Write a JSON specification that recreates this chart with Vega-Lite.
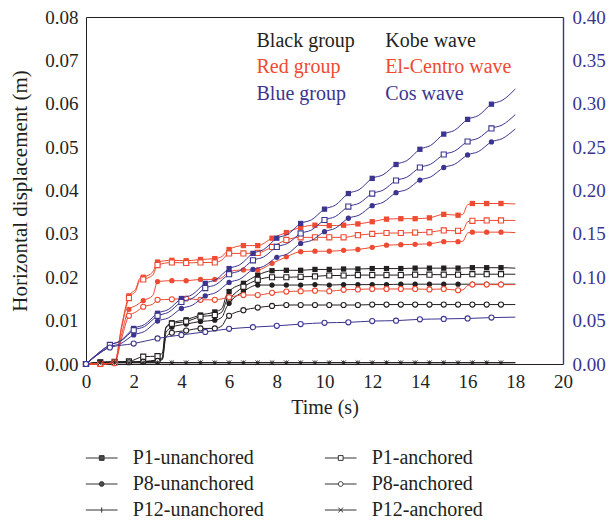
{
"$schema": "https://vega.github.io/schema/vega-lite/v6.json",
"width": 477, "height": 347,
"autosize": {"type": "none"},
"padding": {"left": 86, "top": 17, "right": 46, "bottom": 158},
"config": {"font": "Liberation Serif", "view": {"stroke": null}},
"data": {"values": [
{"g":"Black","s":"P1-unanchored","t":0,"v":0,"m":1},{"g":"Black","s":"P1-unanchored","t":0.6,"v":0.0004,"m":1},{"g":"Black","s":"P1-unanchored","t":1.2,"v":0.0005,"m":1},{"g":"Black","s":"P1-unanchored","t":1.8,"v":0.0005,"m":1},{"g":"Black","s":"P1-unanchored","t":2.4,"v":0.0006,"m":1},{"g":"Black","s":"P1-unanchored","t":3,"v":0.001,"m":1},{"g":"Black","s":"P1-unanchored","t":3.2,"v":0.0015,"m":0},{"g":"Black","s":"P1-unanchored","t":3.35,"v":0.0085,"m":0},{"g":"Black","s":"P1-unanchored","t":3.6,"v":0.0095,"m":1},{"g":"Black","s":"P1-unanchored","t":4.2,"v":0.0102,"m":1},{"g":"Black","s":"P1-unanchored","t":4.8,"v":0.0113,"m":1},{"g":"Black","s":"P1-unanchored","t":5.4,"v":0.012,"m":1},{"g":"Black","s":"P1-unanchored","t":5.7,"v":0.0128,"m":0},{"g":"Black","s":"P1-unanchored","t":5.9,"v":0.016,"m":0},{"g":"Black","s":"P1-unanchored","t":6,"v":0.0167,"m":1},{"g":"Black","s":"P1-unanchored","t":6.6,"v":0.0186,"m":1},{"g":"Black","s":"P1-unanchored","t":7.2,"v":0.0205,"m":1},{"g":"Black","s":"P1-unanchored","t":7.8,"v":0.0215,"m":1},{"g":"Black","s":"P1-unanchored","t":8.4,"v":0.0216,"m":1},{"g":"Black","s":"P1-unanchored","t":9,"v":0.0216,"m":1},{"g":"Black","s":"P1-unanchored","t":9.6,"v":0.0218,"m":1},{"g":"Black","s":"P1-unanchored","t":10.2,"v":0.0218,"m":1},{"g":"Black","s":"P1-unanchored","t":10.8,"v":0.0219,"m":1},{"g":"Black","s":"P1-unanchored","t":11.4,"v":0.0219,"m":1},{"g":"Black","s":"P1-unanchored","t":12,"v":0.022,"m":1},{"g":"Black","s":"P1-unanchored","t":12.6,"v":0.022,"m":1},{"g":"Black","s":"P1-unanchored","t":13.2,"v":0.022,"m":1},{"g":"Black","s":"P1-unanchored","t":13.8,"v":0.0221,"m":1},{"g":"Black","s":"P1-unanchored","t":14.4,"v":0.0221,"m":1},{"g":"Black","s":"P1-unanchored","t":15,"v":0.0221,"m":1},{"g":"Black","s":"P1-unanchored","t":15.6,"v":0.0221,"m":1},{"g":"Black","s":"P1-unanchored","t":16.2,"v":0.0222,"m":1},{"g":"Black","s":"P1-unanchored","t":16.8,"v":0.0222,"m":1},{"g":"Black","s":"P1-unanchored","t":17.4,"v":0.0222,"m":1},{"g":"Black","s":"P1-unanchored","t":18,"v":0.0221,"m":0},
{"g":"Black","s":"P1-anchored","t":0,"v":0,"m":1},{"g":"Black","s":"P1-anchored","t":0.6,"v":0.0004,"m":1},{"g":"Black","s":"P1-anchored","t":1.2,"v":0.0005,"m":1},{"g":"Black","s":"P1-anchored","t":1.8,"v":0.0006,"m":1},{"g":"Black","s":"P1-anchored","t":2.4,"v":0.0017,"m":1},{"g":"Black","s":"P1-anchored","t":3,"v":0.0018,"m":1},{"g":"Black","s":"P1-anchored","t":3.2,"v":0.0025,"m":0},{"g":"Black","s":"P1-anchored","t":3.35,"v":0.0083,"m":0},{"g":"Black","s":"P1-anchored","t":3.6,"v":0.0093,"m":1},{"g":"Black","s":"P1-anchored","t":4.2,"v":0.0098,"m":1},{"g":"Black","s":"P1-anchored","t":4.8,"v":0.0109,"m":1},{"g":"Black","s":"P1-anchored","t":5.4,"v":0.0113,"m":1},{"g":"Black","s":"P1-anchored","t":5.7,"v":0.012,"m":0},{"g":"Black","s":"P1-anchored","t":5.9,"v":0.0146,"m":0},{"g":"Black","s":"P1-anchored","t":6,"v":0.0151,"m":1},{"g":"Black","s":"P1-anchored","t":6.6,"v":0.0178,"m":1},{"g":"Black","s":"P1-anchored","t":7.2,"v":0.0194,"m":1},{"g":"Black","s":"P1-anchored","t":7.8,"v":0.02,"m":1},{"g":"Black","s":"P1-anchored","t":8.4,"v":0.02,"m":1},{"g":"Black","s":"P1-anchored","t":9,"v":0.0201,"m":1},{"g":"Black","s":"P1-anchored","t":9.6,"v":0.0202,"m":1},{"g":"Black","s":"P1-anchored","t":10.2,"v":0.0204,"m":1},{"g":"Black","s":"P1-anchored","t":10.8,"v":0.0204,"m":1},{"g":"Black","s":"P1-anchored","t":11.4,"v":0.0205,"m":1},{"g":"Black","s":"P1-anchored","t":12,"v":0.0205,"m":1},{"g":"Black","s":"P1-anchored","t":12.6,"v":0.0205,"m":1},{"g":"Black","s":"P1-anchored","t":13.2,"v":0.0205,"m":1},{"g":"Black","s":"P1-anchored","t":13.8,"v":0.0206,"m":1},{"g":"Black","s":"P1-anchored","t":14.4,"v":0.0206,"m":1},{"g":"Black","s":"P1-anchored","t":15,"v":0.0206,"m":1},{"g":"Black","s":"P1-anchored","t":15.6,"v":0.0206,"m":1},{"g":"Black","s":"P1-anchored","t":16.2,"v":0.0207,"m":1},{"g":"Black","s":"P1-anchored","t":16.8,"v":0.0207,"m":1},{"g":"Black","s":"P1-anchored","t":17.4,"v":0.0207,"m":1},{"g":"Black","s":"P1-anchored","t":18,"v":0.0207,"m":0},
{"g":"Black","s":"P8-unanchored","t":0,"v":0,"m":1},{"g":"Black","s":"P8-unanchored","t":0.6,"v":0.0003,"m":1},{"g":"Black","s":"P8-unanchored","t":1.2,"v":0.0004,"m":1},{"g":"Black","s":"P8-unanchored","t":1.8,"v":0.0004,"m":1},{"g":"Black","s":"P8-unanchored","t":2.4,"v":0.0005,"m":1},{"g":"Black","s":"P8-unanchored","t":3,"v":0.0008,"m":1},{"g":"Black","s":"P8-unanchored","t":3.2,"v":0.0012,"m":0},{"g":"Black","s":"P8-unanchored","t":3.35,"v":0.0072,"m":0},{"g":"Black","s":"P8-unanchored","t":3.6,"v":0.0085,"m":1},{"g":"Black","s":"P8-unanchored","t":4.2,"v":0.0092,"m":1},{"g":"Black","s":"P8-unanchored","t":4.8,"v":0.0098,"m":1},{"g":"Black","s":"P8-unanchored","t":5.4,"v":0.0101,"m":1},{"g":"Black","s":"P8-unanchored","t":5.7,"v":0.0108,"m":0},{"g":"Black","s":"P8-unanchored","t":5.9,"v":0.0132,"m":0},{"g":"Black","s":"P8-unanchored","t":6,"v":0.014,"m":1},{"g":"Black","s":"P8-unanchored","t":6.6,"v":0.0167,"m":1},{"g":"Black","s":"P8-unanchored","t":7.2,"v":0.0182,"m":1},{"g":"Black","s":"P8-unanchored","t":7.8,"v":0.0182,"m":1},{"g":"Black","s":"P8-unanchored","t":8.4,"v":0.0182,"m":1},{"g":"Black","s":"P8-unanchored","t":9,"v":0.0182,"m":1},{"g":"Black","s":"P8-unanchored","t":9.6,"v":0.0183,"m":1},{"g":"Black","s":"P8-unanchored","t":10.2,"v":0.0182,"m":1},{"g":"Black","s":"P8-unanchored","t":10.8,"v":0.0183,"m":1},{"g":"Black","s":"P8-unanchored","t":11.4,"v":0.0183,"m":1},{"g":"Black","s":"P8-unanchored","t":12,"v":0.0183,"m":1},{"g":"Black","s":"P8-unanchored","t":12.6,"v":0.0183,"m":1},{"g":"Black","s":"P8-unanchored","t":13.2,"v":0.0184,"m":1},{"g":"Black","s":"P8-unanchored","t":13.8,"v":0.0184,"m":1},{"g":"Black","s":"P8-unanchored","t":14.4,"v":0.0184,"m":1},{"g":"Black","s":"P8-unanchored","t":15,"v":0.0184,"m":1},{"g":"Black","s":"P8-unanchored","t":15.6,"v":0.0184,"m":1},{"g":"Black","s":"P8-unanchored","t":16.2,"v":0.0184,"m":1},{"g":"Black","s":"P8-unanchored","t":16.8,"v":0.0184,"m":1},{"g":"Black","s":"P8-unanchored","t":17.4,"v":0.0184,"m":1},{"g":"Black","s":"P8-unanchored","t":18,"v":0.0184,"m":0},
{"g":"Black","s":"P8-anchored","t":0,"v":0,"m":1},{"g":"Black","s":"P8-anchored","t":0.6,"v":0.0003,"m":1},{"g":"Black","s":"P8-anchored","t":1.2,"v":0.0003,"m":1},{"g":"Black","s":"P8-anchored","t":1.8,"v":0.0004,"m":1},{"g":"Black","s":"P8-anchored","t":2.4,"v":0.0005,"m":1},{"g":"Black","s":"P8-anchored","t":3,"v":0.0007,"m":1},{"g":"Black","s":"P8-anchored","t":3.2,"v":0.001,"m":0},{"g":"Black","s":"P8-anchored","t":3.35,"v":0.0062,"m":0},{"g":"Black","s":"P8-anchored","t":3.6,"v":0.0072,"m":1},{"g":"Black","s":"P8-anchored","t":4.2,"v":0.0077,"m":1},{"g":"Black","s":"P8-anchored","t":4.8,"v":0.0082,"m":1},{"g":"Black","s":"P8-anchored","t":5.4,"v":0.0082,"m":1},{"g":"Black","s":"P8-anchored","t":5.7,"v":0.0088,"m":0},{"g":"Black","s":"P8-anchored","t":5.9,"v":0.0106,"m":0},{"g":"Black","s":"P8-anchored","t":6,"v":0.0111,"m":1},{"g":"Black","s":"P8-anchored","t":6.6,"v":0.0124,"m":1},{"g":"Black","s":"P8-anchored","t":7.2,"v":0.013,"m":1},{"g":"Black","s":"P8-anchored","t":7.8,"v":0.0134,"m":1},{"g":"Black","s":"P8-anchored","t":8.4,"v":0.0136,"m":1},{"g":"Black","s":"P8-anchored","t":9,"v":0.0136,"m":1},{"g":"Black","s":"P8-anchored","t":9.6,"v":0.0136,"m":1},{"g":"Black","s":"P8-anchored","t":10.2,"v":0.0136,"m":1},{"g":"Black","s":"P8-anchored","t":10.8,"v":0.0136,"m":1},{"g":"Black","s":"P8-anchored","t":11.4,"v":0.0136,"m":1},{"g":"Black","s":"P8-anchored","t":12,"v":0.0137,"m":1},{"g":"Black","s":"P8-anchored","t":12.6,"v":0.0137,"m":1},{"g":"Black","s":"P8-anchored","t":13.2,"v":0.0137,"m":1},{"g":"Black","s":"P8-anchored","t":13.8,"v":0.0137,"m":1},{"g":"Black","s":"P8-anchored","t":14.4,"v":0.0137,"m":1},{"g":"Black","s":"P8-anchored","t":15,"v":0.0137,"m":1},{"g":"Black","s":"P8-anchored","t":15.6,"v":0.0137,"m":1},{"g":"Black","s":"P8-anchored","t":16.2,"v":0.0137,"m":1},{"g":"Black","s":"P8-anchored","t":16.8,"v":0.0137,"m":1},{"g":"Black","s":"P8-anchored","t":17.4,"v":0.0137,"m":1},{"g":"Black","s":"P8-anchored","t":18,"v":0.0137,"m":0},
{"g":"Black","s":"P12-unanchored","t":0,"v":0,"m":1},{"g":"Black","s":"P12-unanchored","t":0.6,"v":0.0003,"m":1},{"g":"Black","s":"P12-unanchored","t":1.2,"v":0.0003,"m":1},{"g":"Black","s":"P12-unanchored","t":1.8,"v":0.0003,"m":1},{"g":"Black","s":"P12-unanchored","t":2.4,"v":0.0003,"m":1},{"g":"Black","s":"P12-unanchored","t":3,"v":0.0003,"m":1},{"g":"Black","s":"P12-unanchored","t":3.6,"v":0.0003,"m":1},{"g":"Black","s":"P12-unanchored","t":4.2,"v":0.0003,"m":1},{"g":"Black","s":"P12-unanchored","t":4.8,"v":0.0003,"m":1},{"g":"Black","s":"P12-unanchored","t":5.4,"v":0.0003,"m":1},{"g":"Black","s":"P12-unanchored","t":6,"v":0.0003,"m":1},{"g":"Black","s":"P12-unanchored","t":6.6,"v":0.0003,"m":1},{"g":"Black","s":"P12-unanchored","t":7.2,"v":0.0003,"m":1},{"g":"Black","s":"P12-unanchored","t":7.8,"v":0.0003,"m":1},{"g":"Black","s":"P12-unanchored","t":8.4,"v":0.0003,"m":1},{"g":"Black","s":"P12-unanchored","t":9,"v":0.0003,"m":1},{"g":"Black","s":"P12-unanchored","t":9.6,"v":0.0003,"m":1},{"g":"Black","s":"P12-unanchored","t":10.2,"v":0.0003,"m":1},{"g":"Black","s":"P12-unanchored","t":10.8,"v":0.0003,"m":1},{"g":"Black","s":"P12-unanchored","t":11.4,"v":0.0003,"m":1},{"g":"Black","s":"P12-unanchored","t":12,"v":0.0003,"m":1},{"g":"Black","s":"P12-unanchored","t":12.6,"v":0.0003,"m":1},{"g":"Black","s":"P12-unanchored","t":13.2,"v":0.0003,"m":1},{"g":"Black","s":"P12-unanchored","t":13.8,"v":0.0003,"m":1},{"g":"Black","s":"P12-unanchored","t":14.4,"v":0.0003,"m":1},{"g":"Black","s":"P12-unanchored","t":15,"v":0.0003,"m":1},{"g":"Black","s":"P12-unanchored","t":15.6,"v":0.0003,"m":1},{"g":"Black","s":"P12-unanchored","t":16.2,"v":0.0003,"m":1},{"g":"Black","s":"P12-unanchored","t":16.8,"v":0.0003,"m":1},{"g":"Black","s":"P12-unanchored","t":17.4,"v":0.0003,"m":1},{"g":"Black","s":"P12-unanchored","t":18,"v":0.0003,"m":0},
{"g":"Black","s":"P12-anchored","t":0,"v":0,"m":1},{"g":"Black","s":"P12-anchored","t":0.6,"v":0.0003,"m":1},{"g":"Black","s":"P12-anchored","t":1.2,"v":0.0003,"m":1},{"g":"Black","s":"P12-anchored","t":1.8,"v":0.0003,"m":1},{"g":"Black","s":"P12-anchored","t":2.4,"v":0.0003,"m":1},{"g":"Black","s":"P12-anchored","t":3,"v":0.0003,"m":1},{"g":"Black","s":"P12-anchored","t":3.6,"v":0.0003,"m":1},{"g":"Black","s":"P12-anchored","t":4.2,"v":0.0003,"m":1},{"g":"Black","s":"P12-anchored","t":4.8,"v":0.0003,"m":1},{"g":"Black","s":"P12-anchored","t":5.4,"v":0.0003,"m":1},{"g":"Black","s":"P12-anchored","t":6,"v":0.0003,"m":1},{"g":"Black","s":"P12-anchored","t":6.6,"v":0.0003,"m":1},{"g":"Black","s":"P12-anchored","t":7.2,"v":0.0003,"m":1},{"g":"Black","s":"P12-anchored","t":7.8,"v":0.0003,"m":1},{"g":"Black","s":"P12-anchored","t":8.4,"v":0.0003,"m":1},{"g":"Black","s":"P12-anchored","t":9,"v":0.0003,"m":1},{"g":"Black","s":"P12-anchored","t":9.6,"v":0.0003,"m":1},{"g":"Black","s":"P12-anchored","t":10.2,"v":0.0003,"m":1},{"g":"Black","s":"P12-anchored","t":10.8,"v":0.0003,"m":1},{"g":"Black","s":"P12-anchored","t":11.4,"v":0.0003,"m":1},{"g":"Black","s":"P12-anchored","t":12,"v":0.0003,"m":1},{"g":"Black","s":"P12-anchored","t":12.6,"v":0.0003,"m":1},{"g":"Black","s":"P12-anchored","t":13.2,"v":0.0003,"m":1},{"g":"Black","s":"P12-anchored","t":13.8,"v":0.0003,"m":1},{"g":"Black","s":"P12-anchored","t":14.4,"v":0.0003,"m":1},{"g":"Black","s":"P12-anchored","t":15,"v":0.0003,"m":1},{"g":"Black","s":"P12-anchored","t":15.6,"v":0.0003,"m":1},{"g":"Black","s":"P12-anchored","t":16.2,"v":0.0003,"m":1},{"g":"Black","s":"P12-anchored","t":16.8,"v":0.0003,"m":1},{"g":"Black","s":"P12-anchored","t":17.4,"v":0.0003,"m":1},{"g":"Black","s":"P12-anchored","t":18,"v":0.0003,"m":0},
{"g":"Red","s":"P1-unanchored","t":0,"v":0,"m":1},{"g":"Red","s":"P1-unanchored","t":0.6,"v":0,"m":1},{"g":"Red","s":"P1-unanchored","t":1.2,"v":0.0003,"m":1},{"g":"Red","s":"P1-unanchored","t":1.5,"v":0.009,"m":0},{"g":"Red","s":"P1-unanchored","t":1.8,"v":0.0157,"m":1},{"g":"Red","s":"P1-unanchored","t":2.1,"v":0.0175,"m":0},{"g":"Red","s":"P1-unanchored","t":2.25,"v":0.0197,"m":0},{"g":"Red","s":"P1-unanchored","t":2.4,"v":0.02,"m":1},{"g":"Red","s":"P1-unanchored","t":2.8,"v":0.0212,"m":0},{"g":"Red","s":"P1-unanchored","t":3,"v":0.0235,"m":1},{"g":"Red","s":"P1-unanchored","t":3.6,"v":0.0239,"m":1},{"g":"Red","s":"P1-unanchored","t":4.2,"v":0.0238,"m":1},{"g":"Red","s":"P1-unanchored","t":4.8,"v":0.0241,"m":1},{"g":"Red","s":"P1-unanchored","t":5.4,"v":0.0243,"m":1},{"g":"Red","s":"P1-unanchored","t":5.7,"v":0.0248,"m":0},{"g":"Red","s":"P1-unanchored","t":6,"v":0.0264,"m":1},{"g":"Red","s":"P1-unanchored","t":6.6,"v":0.0273,"m":1},{"g":"Red","s":"P1-unanchored","t":7.2,"v":0.0273,"m":1},{"g":"Red","s":"P1-unanchored","t":7.8,"v":0.029,"m":1},{"g":"Red","s":"P1-unanchored","t":8.4,"v":0.0303,"m":1},{"g":"Red","s":"P1-unanchored","t":9,"v":0.0315,"m":1},{"g":"Red","s":"P1-unanchored","t":9.6,"v":0.032,"m":1},{"g":"Red","s":"P1-unanchored","t":10.2,"v":0.0319,"m":1},{"g":"Red","s":"P1-unanchored","t":10.8,"v":0.032,"m":1},{"g":"Red","s":"P1-unanchored","t":11.4,"v":0.0323,"m":1},{"g":"Red","s":"P1-unanchored","t":12,"v":0.0328,"m":1},{"g":"Red","s":"P1-unanchored","t":12.6,"v":0.0334,"m":1},{"g":"Red","s":"P1-unanchored","t":13.2,"v":0.0335,"m":1},{"g":"Red","s":"P1-unanchored","t":13.8,"v":0.0335,"m":1},{"g":"Red","s":"P1-unanchored","t":14.4,"v":0.0337,"m":1},{"g":"Red","s":"P1-unanchored","t":15,"v":0.0345,"m":1},{"g":"Red","s":"P1-unanchored","t":15.6,"v":0.0343,"m":1},{"g":"Red","s":"P1-unanchored","t":15.8,"v":0.0345,"m":0},{"g":"Red","s":"P1-unanchored","t":16,"v":0.0367,"m":0},{"g":"Red","s":"P1-unanchored","t":16.2,"v":0.037,"m":1},{"g":"Red","s":"P1-unanchored","t":16.8,"v":0.037,"m":1},{"g":"Red","s":"P1-unanchored","t":17.4,"v":0.037,"m":1},{"g":"Red","s":"P1-unanchored","t":18,"v":0.0369,"m":0},
{"g":"Red","s":"P1-anchored","t":0,"v":0,"m":1},{"g":"Red","s":"P1-anchored","t":0.6,"v":0,"m":1},{"g":"Red","s":"P1-anchored","t":1.2,"v":0.0003,"m":1},{"g":"Red","s":"P1-anchored","t":1.5,"v":0.0085,"m":0},{"g":"Red","s":"P1-anchored","t":1.8,"v":0.0152,"m":1},{"g":"Red","s":"P1-anchored","t":2.1,"v":0.017,"m":0},{"g":"Red","s":"P1-anchored","t":2.25,"v":0.0192,"m":0},{"g":"Red","s":"P1-anchored","t":2.4,"v":0.0195,"m":1},{"g":"Red","s":"P1-anchored","t":2.8,"v":0.0205,"m":0},{"g":"Red","s":"P1-anchored","t":3,"v":0.0228,"m":1},{"g":"Red","s":"P1-anchored","t":3.6,"v":0.0234,"m":1},{"g":"Red","s":"P1-anchored","t":4.2,"v":0.0233,"m":1},{"g":"Red","s":"P1-anchored","t":4.8,"v":0.0234,"m":1},{"g":"Red","s":"P1-anchored","t":5.4,"v":0.0234,"m":1},{"g":"Red","s":"P1-anchored","t":5.7,"v":0.024,"m":0},{"g":"Red","s":"P1-anchored","t":6,"v":0.0255,"m":1},{"g":"Red","s":"P1-anchored","t":6.6,"v":0.0255,"m":1},{"g":"Red","s":"P1-anchored","t":7.2,"v":0.0256,"m":1},{"g":"Red","s":"P1-anchored","t":7.8,"v":0.027,"m":1},{"g":"Red","s":"P1-anchored","t":8.4,"v":0.0286,"m":1},{"g":"Red","s":"P1-anchored","t":9,"v":0.0292,"m":1},{"g":"Red","s":"P1-anchored","t":9.6,"v":0.0292,"m":1},{"g":"Red","s":"P1-anchored","t":10.2,"v":0.0292,"m":1},{"g":"Red","s":"P1-anchored","t":10.8,"v":0.0292,"m":1},{"g":"Red","s":"P1-anchored","t":11.4,"v":0.0297,"m":1},{"g":"Red","s":"P1-anchored","t":12,"v":0.03,"m":1},{"g":"Red","s":"P1-anchored","t":12.6,"v":0.0302,"m":1},{"g":"Red","s":"P1-anchored","t":13.2,"v":0.0302,"m":1},{"g":"Red","s":"P1-anchored","t":13.8,"v":0.0303,"m":1},{"g":"Red","s":"P1-anchored","t":14.4,"v":0.0304,"m":1},{"g":"Red","s":"P1-anchored","t":15,"v":0.0308,"m":1},{"g":"Red","s":"P1-anchored","t":15.6,"v":0.0307,"m":1},{"g":"Red","s":"P1-anchored","t":15.8,"v":0.0308,"m":0},{"g":"Red","s":"P1-anchored","t":16,"v":0.0328,"m":0},{"g":"Red","s":"P1-anchored","t":16.2,"v":0.033,"m":1},{"g":"Red","s":"P1-anchored","t":16.8,"v":0.0331,"m":1},{"g":"Red","s":"P1-anchored","t":17.4,"v":0.0331,"m":1},{"g":"Red","s":"P1-anchored","t":18,"v":0.0331,"m":0},
{"g":"Red","s":"P8-unanchored","t":0,"v":0,"m":1},{"g":"Red","s":"P8-unanchored","t":0.6,"v":0,"m":1},{"g":"Red","s":"P8-unanchored","t":1.2,"v":0.0003,"m":1},{"g":"Red","s":"P8-unanchored","t":1.5,"v":0.007,"m":0},{"g":"Red","s":"P8-unanchored","t":1.8,"v":0.0126,"m":1},{"g":"Red","s":"P8-unanchored","t":2.1,"v":0.0135,"m":0},{"g":"Red","s":"P8-unanchored","t":2.4,"v":0.0146,"m":1},{"g":"Red","s":"P8-unanchored","t":2.8,"v":0.0158,"m":0},{"g":"Red","s":"P8-unanchored","t":3,"v":0.019,"m":1},{"g":"Red","s":"P8-unanchored","t":3.6,"v":0.0192,"m":1},{"g":"Red","s":"P8-unanchored","t":4.2,"v":0.0192,"m":1},{"g":"Red","s":"P8-unanchored","t":4.8,"v":0.0195,"m":1},{"g":"Red","s":"P8-unanchored","t":5.4,"v":0.0195,"m":1},{"g":"Red","s":"P8-unanchored","t":5.7,"v":0.0199,"m":0},{"g":"Red","s":"P8-unanchored","t":6,"v":0.0213,"m":1},{"g":"Red","s":"P8-unanchored","t":6.6,"v":0.0217,"m":1},{"g":"Red","s":"P8-unanchored","t":7.2,"v":0.0217,"m":1},{"g":"Red","s":"P8-unanchored","t":7.8,"v":0.0232,"m":1},{"g":"Red","s":"P8-unanchored","t":8.4,"v":0.0247,"m":1},{"g":"Red","s":"P8-unanchored","t":9,"v":0.0259,"m":1},{"g":"Red","s":"P8-unanchored","t":9.6,"v":0.026,"m":1},{"g":"Red","s":"P8-unanchored","t":10.2,"v":0.026,"m":1},{"g":"Red","s":"P8-unanchored","t":10.8,"v":0.0262,"m":1},{"g":"Red","s":"P8-unanchored","t":11.4,"v":0.0264,"m":1},{"g":"Red","s":"P8-unanchored","t":12,"v":0.0269,"m":1},{"g":"Red","s":"P8-unanchored","t":12.6,"v":0.0274,"m":1},{"g":"Red","s":"P8-unanchored","t":13.2,"v":0.0275,"m":1},{"g":"Red","s":"P8-unanchored","t":13.8,"v":0.0276,"m":1},{"g":"Red","s":"P8-unanchored","t":14.4,"v":0.0277,"m":1},{"g":"Red","s":"P8-unanchored","t":15,"v":0.0282,"m":1},{"g":"Red","s":"P8-unanchored","t":15.6,"v":0.0282,"m":1},{"g":"Red","s":"P8-unanchored","t":15.8,"v":0.0283,"m":0},{"g":"Red","s":"P8-unanchored","t":16,"v":0.0302,"m":0},{"g":"Red","s":"P8-unanchored","t":16.2,"v":0.0304,"m":1},{"g":"Red","s":"P8-unanchored","t":16.8,"v":0.0304,"m":1},{"g":"Red","s":"P8-unanchored","t":17.4,"v":0.0304,"m":1},{"g":"Red","s":"P8-unanchored","t":18,"v":0.0303,"m":0},
{"g":"Red","s":"P8-anchored","t":0,"v":0,"m":1},{"g":"Red","s":"P8-anchored","t":0.6,"v":0,"m":1},{"g":"Red","s":"P8-anchored","t":1.2,"v":0.0002,"m":1},{"g":"Red","s":"P8-anchored","t":1.5,"v":0.006,"m":0},{"g":"Red","s":"P8-anchored","t":1.8,"v":0.0111,"m":1},{"g":"Red","s":"P8-anchored","t":2.1,"v":0.012,"m":0},{"g":"Red","s":"P8-anchored","t":2.4,"v":0.0132,"m":1},{"g":"Red","s":"P8-anchored","t":2.8,"v":0.0138,"m":0},{"g":"Red","s":"P8-anchored","t":3,"v":0.0148,"m":1},{"g":"Red","s":"P8-anchored","t":3.6,"v":0.0149,"m":1},{"g":"Red","s":"P8-anchored","t":4.2,"v":0.0151,"m":1},{"g":"Red","s":"P8-anchored","t":4.8,"v":0.0148,"m":1},{"g":"Red","s":"P8-anchored","t":5.4,"v":0.0148,"m":1},{"g":"Red","s":"P8-anchored","t":6,"v":0.0154,"m":1},{"g":"Red","s":"P8-anchored","t":6.6,"v":0.0159,"m":1},{"g":"Red","s":"P8-anchored","t":7.2,"v":0.0159,"m":1},{"g":"Red","s":"P8-anchored","t":7.8,"v":0.0164,"m":1},{"g":"Red","s":"P8-anchored","t":8.4,"v":0.0167,"m":1},{"g":"Red","s":"P8-anchored","t":9,"v":0.0168,"m":1},{"g":"Red","s":"P8-anchored","t":9.6,"v":0.0169,"m":1},{"g":"Red","s":"P8-anchored","t":10.2,"v":0.0168,"m":1},{"g":"Red","s":"P8-anchored","t":10.8,"v":0.0171,"m":1},{"g":"Red","s":"P8-anchored","t":11.4,"v":0.0172,"m":1},{"g":"Red","s":"P8-anchored","t":12,"v":0.0173,"m":1},{"g":"Red","s":"P8-anchored","t":12.6,"v":0.0173,"m":1},{"g":"Red","s":"P8-anchored","t":13.2,"v":0.0173,"m":1},{"g":"Red","s":"P8-anchored","t":13.8,"v":0.0173,"m":1},{"g":"Red","s":"P8-anchored","t":14.4,"v":0.0172,"m":1},{"g":"Red","s":"P8-anchored","t":15,"v":0.0173,"m":1},{"g":"Red","s":"P8-anchored","t":15.6,"v":0.017,"m":1},{"g":"Red","s":"P8-anchored","t":15.8,"v":0.0171,"m":0},{"g":"Red","s":"P8-anchored","t":16,"v":0.0181,"m":0},{"g":"Red","s":"P8-anchored","t":16.2,"v":0.0183,"m":1},{"g":"Red","s":"P8-anchored","t":16.8,"v":0.0183,"m":1},{"g":"Red","s":"P8-anchored","t":17.4,"v":0.0183,"m":1},{"g":"Red","s":"P8-anchored","t":18,"v":0.0183,"m":0},
{"g":"Blue","s":"P1-unanchored","t":0,"v":0,"m":1},{"g":"Blue","s":"P1-unanchored","t":0.45,"v":0.011,"m":0},{"g":"Blue","s":"P1-unanchored","t":1,"v":0.022,"m":1},{"g":"Blue","s":"P1-unanchored","t":1.45,"v":0.0268,"m":0},{"g":"Blue","s":"P1-unanchored","t":2,"v":0.041,"m":1},{"g":"Blue","s":"P1-unanchored","t":2.45,"v":0.0454,"m":0},{"g":"Blue","s":"P1-unanchored","t":3,"v":0.0585,"m":1},{"g":"Blue","s":"P1-unanchored","t":3.45,"v":0.0628,"m":0},{"g":"Blue","s":"P1-unanchored","t":4,"v":0.0755,"m":1},{"g":"Blue","s":"P1-unanchored","t":4.45,"v":0.0799,"m":0},{"g":"Blue","s":"P1-unanchored","t":5,"v":0.093,"m":1},{"g":"Blue","s":"P1-unanchored","t":5.45,"v":0.0973,"m":0},{"g":"Blue","s":"P1-unanchored","t":6,"v":0.11,"m":1},{"g":"Blue","s":"P1-unanchored","t":6.45,"v":0.1144,"m":0},{"g":"Blue","s":"P1-unanchored","t":7,"v":0.1275,"m":1},{"g":"Blue","s":"P1-unanchored","t":7.45,"v":0.1319,"m":0},{"g":"Blue","s":"P1-unanchored","t":8,"v":0.145,"m":1},{"g":"Blue","s":"P1-unanchored","t":8.45,"v":0.1493,"m":0},{"g":"Blue","s":"P1-unanchored","t":9,"v":0.162,"m":1},{"g":"Blue","s":"P1-unanchored","t":9.45,"v":0.1661,"m":0},{"g":"Blue","s":"P1-unanchored","t":10,"v":0.1785,"m":1},{"g":"Blue","s":"P1-unanchored","t":10.45,"v":0.183,"m":0},{"g":"Blue","s":"P1-unanchored","t":11,"v":0.1965,"m":1},{"g":"Blue","s":"P1-unanchored","t":11.45,"v":0.2009,"m":0},{"g":"Blue","s":"P1-unanchored","t":12,"v":0.214,"m":1},{"g":"Blue","s":"P1-unanchored","t":12.45,"v":0.218,"m":0},{"g":"Blue","s":"P1-unanchored","t":13,"v":0.23,"m":1},{"g":"Blue","s":"P1-unanchored","t":13.45,"v":0.2344,"m":0},{"g":"Blue","s":"P1-unanchored","t":14,"v":0.2475,"m":1},{"g":"Blue","s":"P1-unanchored","t":14.45,"v":0.2519,"m":0},{"g":"Blue","s":"P1-unanchored","t":15,"v":0.265,"m":1},{"g":"Blue","s":"P1-unanchored","t":15.45,"v":0.2693,"m":0},{"g":"Blue","s":"P1-unanchored","t":16,"v":0.282,"m":1},{"g":"Blue","s":"P1-unanchored","t":16.45,"v":0.2864,"m":0},{"g":"Blue","s":"P1-unanchored","t":17,"v":0.2995,"m":1},{"g":"Blue","s":"P1-unanchored","t":17.45,"v":0.3039,"m":0},{"g":"Blue","s":"P1-unanchored","t":18,"v":0.317,"m":0},
{"g":"Blue","s":"P1-anchored","t":0,"v":0,"m":1},{"g":"Blue","s":"P1-anchored","t":0.45,"v":0.011,"m":0},{"g":"Blue","s":"P1-anchored","t":1,"v":0.022,"m":1},{"g":"Blue","s":"P1-anchored","t":1.45,"v":0.0263,"m":0},{"g":"Blue","s":"P1-anchored","t":2,"v":0.039,"m":1},{"g":"Blue","s":"P1-anchored","t":2.45,"v":0.0431,"m":0},{"g":"Blue","s":"P1-anchored","t":3,"v":0.0555,"m":1},{"g":"Blue","s":"P1-anchored","t":3.45,"v":0.0595,"m":0},{"g":"Blue","s":"P1-anchored","t":4,"v":0.0715,"m":1},{"g":"Blue","s":"P1-anchored","t":4.45,"v":0.0755,"m":0},{"g":"Blue","s":"P1-anchored","t":5,"v":0.0875,"m":1},{"g":"Blue","s":"P1-anchored","t":5.45,"v":0.0915,"m":0},{"g":"Blue","s":"P1-anchored","t":6,"v":0.1035,"m":1},{"g":"Blue","s":"P1-anchored","t":6.45,"v":0.1075,"m":0},{"g":"Blue","s":"P1-anchored","t":7,"v":0.1195,"m":1},{"g":"Blue","s":"P1-anchored","t":7.45,"v":0.1234,"m":0},{"g":"Blue","s":"P1-anchored","t":8,"v":0.135,"m":1},{"g":"Blue","s":"P1-anchored","t":8.45,"v":0.1389,"m":0},{"g":"Blue","s":"P1-anchored","t":9,"v":0.1505,"m":1},{"g":"Blue","s":"P1-anchored","t":9.45,"v":0.1544,"m":0},{"g":"Blue","s":"P1-anchored","t":10,"v":0.166,"m":1},{"g":"Blue","s":"P1-anchored","t":10.45,"v":0.1699,"m":0},{"g":"Blue","s":"P1-anchored","t":11,"v":0.1815,"m":1},{"g":"Blue","s":"P1-anchored","t":11.45,"v":0.1853,"m":0},{"g":"Blue","s":"P1-anchored","t":12,"v":0.1965,"m":1},{"g":"Blue","s":"P1-anchored","t":12.45,"v":0.2003,"m":0},{"g":"Blue","s":"P1-anchored","t":13,"v":0.2115,"m":1},{"g":"Blue","s":"P1-anchored","t":13.45,"v":0.2153,"m":0},{"g":"Blue","s":"P1-anchored","t":14,"v":0.2265,"m":1},{"g":"Blue","s":"P1-anchored","t":14.45,"v":0.2303,"m":0},{"g":"Blue","s":"P1-anchored","t":15,"v":0.2415,"m":1},{"g":"Blue","s":"P1-anchored","t":15.45,"v":0.2453,"m":0},{"g":"Blue","s":"P1-anchored","t":16,"v":0.2565,"m":1},{"g":"Blue","s":"P1-anchored","t":16.45,"v":0.2603,"m":0},{"g":"Blue","s":"P1-anchored","t":17,"v":0.2715,"m":1},{"g":"Blue","s":"P1-anchored","t":17.45,"v":0.2755,"m":0},{"g":"Blue","s":"P1-anchored","t":18,"v":0.2875,"m":0},
{"g":"Blue","s":"P8-unanchored","t":0,"v":0,"m":1},{"g":"Blue","s":"P8-unanchored","t":0.45,"v":0.01,"m":0},{"g":"Blue","s":"P8-unanchored","t":1,"v":0.02,"m":1},{"g":"Blue","s":"P8-unanchored","t":1.45,"v":0.0234,"m":0},{"g":"Blue","s":"P8-unanchored","t":2,"v":0.0335,"m":1},{"g":"Blue","s":"P8-unanchored","t":2.45,"v":0.0375,"m":0},{"g":"Blue","s":"P8-unanchored","t":3,"v":0.0495,"m":1},{"g":"Blue","s":"P8-unanchored","t":3.45,"v":0.0531,"m":0},{"g":"Blue","s":"P8-unanchored","t":4,"v":0.064,"m":1},{"g":"Blue","s":"P8-unanchored","t":4.45,"v":0.0676,"m":0},{"g":"Blue","s":"P8-unanchored","t":5,"v":0.0785,"m":1},{"g":"Blue","s":"P8-unanchored","t":5.45,"v":0.0824,"m":0},{"g":"Blue","s":"P8-unanchored","t":6,"v":0.094,"m":1},{"g":"Blue","s":"P8-unanchored","t":6.45,"v":0.0978,"m":0},{"g":"Blue","s":"P8-unanchored","t":7,"v":0.109,"m":1},{"g":"Blue","s":"P8-unanchored","t":7.45,"v":0.1125,"m":0},{"g":"Blue","s":"P8-unanchored","t":8,"v":0.123,"m":1},{"g":"Blue","s":"P8-unanchored","t":8.45,"v":0.127,"m":0},{"g":"Blue","s":"P8-unanchored","t":9,"v":0.139,"m":1},{"g":"Blue","s":"P8-unanchored","t":9.45,"v":0.1424,"m":0},{"g":"Blue","s":"P8-unanchored","t":10,"v":0.1525,"m":1},{"g":"Blue","s":"P8-unanchored","t":10.45,"v":0.1564,"m":0},{"g":"Blue","s":"P8-unanchored","t":11,"v":0.168,"m":1},{"g":"Blue","s":"P8-unanchored","t":11.45,"v":0.1716,"m":0},{"g":"Blue","s":"P8-unanchored","t":12,"v":0.1825,"m":1},{"g":"Blue","s":"P8-unanchored","t":12.45,"v":0.1863,"m":0},{"g":"Blue","s":"P8-unanchored","t":13,"v":0.1975,"m":1},{"g":"Blue","s":"P8-unanchored","t":13.45,"v":0.2011,"m":0},{"g":"Blue","s":"P8-unanchored","t":14,"v":0.212,"m":1},{"g":"Blue","s":"P8-unanchored","t":14.45,"v":0.2156,"m":0},{"g":"Blue","s":"P8-unanchored","t":15,"v":0.2265,"m":1},{"g":"Blue","s":"P8-unanchored","t":15.45,"v":0.2301,"m":0},{"g":"Blue","s":"P8-unanchored","t":16,"v":0.241,"m":1},{"g":"Blue","s":"P8-unanchored","t":16.45,"v":0.2448,"m":0},{"g":"Blue","s":"P8-unanchored","t":17,"v":0.256,"m":1},{"g":"Blue","s":"P8-unanchored","t":17.45,"v":0.2598,"m":0},{"g":"Blue","s":"P8-unanchored","t":18,"v":0.271,"m":0},
{"g":"Blue","s":"P8-anchored","t":0,"v":0,"m":1},{"g":"Blue","s":"P8-anchored","t":0.45,"v":0.01,"m":0},{"g":"Blue","s":"P8-anchored","t":1,"v":0.019,"m":1},{"g":"Blue","s":"P8-anchored","t":2,"v":0.0235,"m":1},{"g":"Blue","s":"P8-anchored","t":3,"v":0.0295,"m":1},{"g":"Blue","s":"P8-anchored","t":4,"v":0.0335,"m":1},{"g":"Blue","s":"P8-anchored","t":5,"v":0.037,"m":1},{"g":"Blue","s":"P8-anchored","t":6,"v":0.0405,"m":1},{"g":"Blue","s":"P8-anchored","t":7,"v":0.0425,"m":1},{"g":"Blue","s":"P8-anchored","t":8,"v":0.044,"m":1},{"g":"Blue","s":"P8-anchored","t":9,"v":0.046,"m":1},{"g":"Blue","s":"P8-anchored","t":10,"v":0.0475,"m":1},{"g":"Blue","s":"P8-anchored","t":11,"v":0.048,"m":1},{"g":"Blue","s":"P8-anchored","t":12,"v":0.0495,"m":1},{"g":"Blue","s":"P8-anchored","t":13,"v":0.05,"m":1},{"g":"Blue","s":"P8-anchored","t":14,"v":0.0515,"m":1},{"g":"Blue","s":"P8-anchored","t":15,"v":0.052,"m":1},{"g":"Blue","s":"P8-anchored","t":16,"v":0.0525,"m":1},{"g":"Blue","s":"P8-anchored","t":17,"v":0.0535,"m":1},{"g":"Blue","s":"P8-anchored","t":18,"v":0.054,"m":0}
]},
"layer": [
{
"encoding": {
"x": {"field": "t", "type": "quantitative", "scale": {"domain": [0, 20], "nice": false},
 "axis": {"orient": "bottom", "values": [0,1,2,3,4,5,6,7,8,9,10,11,12,13,14,15,16,17,18,19,20], "labelExpr": "datum.value % 2 == 0 ? datum.label : ''", "tickSize": 0, "encode": {"ticks": {"update": {"y2": {"signal": "datum.value % 2 == 0 ? -6 : -3.5"}}}}, "labelPadding": 8, "labelFontSize": 19, "labelColor": "#231f20", "labelOverlap": false, "labelFlush": false, "title": "Time (s)", "titleFontSize": 20, "titleFontWeight": "normal", "titleColor": "#231f20", "titlePadding": 6, "domainColor": "#231f20", "tickColor": "#231f20", "grid": false}},
"y": {"field": "v", "type": "quantitative", "scale": {"domain": [0, 0.08], "nice": false},
 "axis": {"orient": "left", "values": [0,0.005,0.01,0.015,0.02,0.025,0.03,0.035,0.04,0.045,0.05,0.055,0.06,0.065,0.07,0.075,0.08], "labelExpr": "round(datum.value*1000) % 10 == 0 ? format(datum.value, '.2f') : ''", "tickSize": 0, "encode": {"ticks": {"update": {"x2": {"signal": "round(datum.value*1000) % 10 == 0 ? 7 : 4"}}}}, "labelPadding": 8, "labelFontSize": 19, "labelColor": "#231f20", "labelOverlap": false, "labelFlush": false, "title": "Horizontal displacement (m)", "titleFontSize": 21, "titleFontWeight": "normal", "titleColor": "#231f20", "titlePadding": 14, "domainColor": "#231f20", "tickColor": "#231f20", "grid": false}},
"color": {"field": "g", "type": "nominal", "scale": {"domain": ["Black", "Red", "Blue"], "range": ["#231f20", "#ef4a32", "#3b3590"]}, "legend": null},
"shape": {"field": "s", "type": "nominal", "scale": {"domain": ["P1-unanchored","P1-anchored","P8-unanchored","P8-anchored","P12-unanchored","P12-anchored"], "range": ["square","square","circle","circle","M-1,0H1M0,-1V1","M-1,-1L1,1M-1,1L1,-1"]}, "legend": null}
},
"layer": [
{"transform": [{"filter": "datum.g != 'Blue'"}], "mark": {"type": "line", "interpolate": "monotone", "strokeWidth": 1}, "encoding": {"detail": {"field": "s"}, "shape": null}},
{"transform": [{"filter": "datum.g != 'Blue' && datum.m == 1 && (datum.s == 'P1-unanchored' || datum.s == 'P8-unanchored')"}], "mark": {"type": "point", "filled": true, "opacity": 1, "size": 28}},
{"transform": [{"filter": "datum.g != 'Blue' && datum.m == 1 && (datum.s == 'P1-anchored' || datum.s == 'P8-anchored')"}], "mark": {"type": "point", "filled": false, "fill": "white", "opacity": 1, "size": 26, "strokeWidth": 1.1}},
{"transform": [{"filter": "datum.g != 'Blue' && datum.m == 1 && (datum.s == 'P12-anchored' || datum.s == 'P12-unanchored')"}], "mark": {"type": "point", "filled": false, "opacity": 1, "size": 20, "strokeWidth": 0.9}}
]
},
{
"encoding": {
"x": {"field": "t", "type": "quantitative", "scale": {"domain": [0, 20], "nice": false},
 "axis": {"orient": "top", "values": [0,1,2,3,4,5,6,7,8,9,10,11,12,13,14,15,16,17,18,19,20], "labels": false, "tickSize": 0, "encode": {"ticks": {"update": {"y2": {"signal": "datum.value % 2 == 0 ? 6 : 3.5"}}}}, "title": null, "domainColor": "#231f20", "tickColor": "#231f20", "grid": false}},
"y": {"field": "v", "type": "quantitative", "scale": {"domain": [0, 0.4], "nice": false},
 "axis": {"orient": "right", "values": [0,0.025,0.05,0.075,0.1,0.125,0.15,0.175,0.2,0.225,0.25,0.275,0.3,0.325,0.35,0.375,0.4], "labelExpr": "round(datum.value*1000) % 50 == 0 ? format(datum.value, '.2f') : ''", "tickSize": 0, "encode": {"ticks": {"update": {"x2": {"signal": "round(datum.value*1000) % 50 == 0 ? -7 : -4"}}}}, "labelPadding": 9, "labelFontSize": 19, "labelColor": "#3b3590", "labelOverlap": false, "labelFlush": false, "title": null, "domainColor": "#3b3590", "domainWidth": 1.4, "tickColor": "#3b3590", "grid": false}},
"color": {"field": "g", "type": "nominal", "scale": {"domain": ["Black", "Red", "Blue"], "range": ["#231f20", "#ef4a32", "#3b3590"]}, "legend": null},
"shape": {"field": "s", "type": "nominal", "scale": {"domain": ["P1-unanchored","P1-anchored","P8-unanchored","P8-anchored","P12-unanchored","P12-anchored"], "range": ["square","square","circle","circle","M-1,0H1M0,-1V1","M-1,-1L1,1M-1,1L1,-1"]}, "legend": null}
},
"layer": [
{"transform": [{"filter": "datum.g == 'Blue'"}], "mark": {"type": "line", "interpolate": "monotone", "strokeWidth": 1}, "encoding": {"detail": {"field": "s"}, "shape": null}},
{"transform": [{"filter": "datum.g == 'Blue' && datum.m == 1 && (datum.s == 'P1-unanchored' || datum.s == 'P8-unanchored')"}], "mark": {"type": "point", "filled": true, "opacity": 1, "size": 28}},
{"transform": [{"filter": "datum.g == 'Blue' && datum.m == 1 && (datum.s == 'P1-anchored' || datum.s == 'P8-anchored')"}], "mark": {"type": "point", "filled": false, "fill": "white", "opacity": 1, "size": 26, "strokeWidth": 1.1}}
]
},
{
"data": {"values": [
{"txt": "Black group", "g": "Black", "t": 7.15, "v": 0.0745},
{"txt": "Red group", "g": "Red", "t": 7.15, "v": 0.0684},
{"txt": "Blue group", "g": "Blue", "t": 7.15, "v": 0.0622},
{"txt": "Kobe wave", "g": "Black", "t": 12.55, "v": 0.0745},
{"txt": "El-Centro wave", "g": "Red", "t": 12.55, "v": 0.0684},
{"txt": "Cos wave", "g": "Blue", "t": 12.55, "v": 0.0622}
]},
"mark": {"type": "text", "align": "left", "baseline": "middle", "fontSize": 20, "font": "Liberation Serif"},
"encoding": {
"x": {"field": "t", "type": "quantitative", "scale": {"domain": [0, 20], "nice": false}, "axis": null},
"y": {"field": "v", "type": "quantitative", "scale": {"domain": [0, 0.08], "nice": false}, "axis": null},
"text": {"field": "txt"},
"color": {"field": "g", "type": "nominal", "scale": {"domain": ["Black", "Red", "Blue"], "range": ["#231f20", "#ef4a32", "#3b3590"]}, "legend": null}
}
},
{
"transform": [{"filter": "datum.t < 0"}],
"mark": {"type": "point", "filled": false, "stroke": "#333333", "strokeWidth": 1, "opacity": 1},
"encoding": {
"shape": {"field": "s", "type": "nominal",
 "scale": {"domain": ["P1-unanchored","P1-anchored","P8-unanchored","P8-anchored","P12-unanchored","P12-anchored"],
  "range": ["M-3,0H3M-0.45,-0.45H0.45V0.45H-0.45ZM-0.45,-0.3H0.45M-0.45,-0.15H0.45M-0.45,0.15H0.45M-0.45,0.3H0.45","M-3,0H-0.45M0.45,0H3M-0.45,-0.45H0.45V0.45H-0.45Z","M-3,0H3M-0.45,0A0.45,0.45 0 1,0 0.45,0A0.45,0.45 0 1,0 -0.45,0ZM-0.34,-0.3H0.34M-0.42,-0.15H0.42M-0.42,0.15H0.42M-0.34,0.3H0.34","M-3,0H-0.45M0.45,0H3M-0.45,0A0.45,0.45 0 1,0 0.45,0A0.45,0.45 0 1,0 -0.45,0Z","M-3,0H3M0,-0.5V0.5","M-3,0H3M-0.45,-0.45L0.45,0.45M-0.45,0.45L0.45,-0.45"]},
 "legend": {"orient": "none", "legendX": 5.7, "legendY": 431, "columns": 2, "direction": "horizontal", "title": null, "padding": 0, "symbolSize": 112, "symbolStrokeWidth": 1, "symbolStrokeColor": "#333333", "symbolFillColor": "transparent", "symbolOpacity": 1, "labelFontSize": 20, "labelFont": "Liberation Serif", "labelColor": "#231f20", "labelOffset": 21, "columnPadding": 58, "rowPadding": 6, "labelLimit": 300}}
}
}
],
"resolve": {"scale": {"y": "independent", "shape": "independent"}, "axis": {"x": "independent"}}
}
